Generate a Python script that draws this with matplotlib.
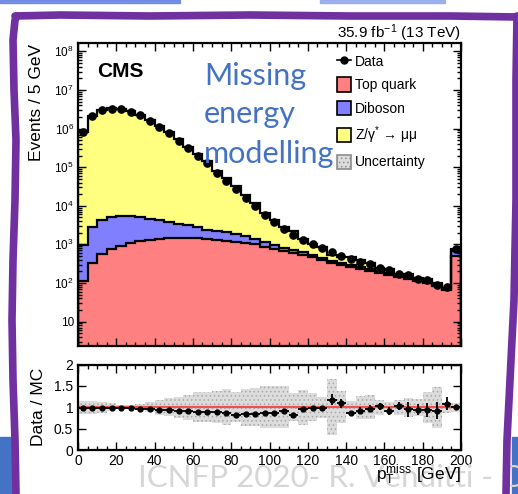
import matplotlib
matplotlib.use("Agg")
import matplotlib.pyplot as plt
import matplotlib.ticker as mticker
from matplotlib.patches import Patch, Rectangle
from matplotlib.lines import Line2D
import numpy as np

plt.rcParams["font.family"] = ["Liberation Sans", "DejaVu Sans"]
plt.rcParams["mathtext.fontset"] = "custom"
plt.rcParams["mathtext.rm"] = "Liberation Sans"
plt.rcParams["mathtext.it"] = "Liberation Sans:italic"
plt.rcParams["hatch.linewidth"] = 0.6

# binning: 5 GeV bins, last bin holds the overflow
edges = np.arange(0, 205, 5)

# observed events per bin
data_counts = [8.3e5, 2.1e6, 3.0e6, 3.3e6, 3.2e6, 2.75e6, 2.2e6, 1.6e6, 1.1e6, 7.6e5,
               4.9e5, 3.1e5, 1.95e5, 1.26e5, 7.2e4, 4.5e4, 2.7e4, 1.6e4, 1.0e4, 5.8e3,
               3.7e3, 2.5e3, 1.8e3, 1.3e3, 1.0e3, 830, 630, 500, 415, 360,
               315, 250, 215, 175, 160, 126, 120, 90, 81, 780]

# simulated processes (stacked)
top_quark = [115, 325, 560, 750, 910, 1070, 1200, 1300, 1380, 1440,
             1480, 1480, 1460, 1390, 1300, 1220, 1150, 1070, 1000, 880,
             770, 680, 610, 540, 470, 400, 330, 295, 265, 235,
             205, 180, 160, 143, 128, 112, 98, 83, 64, 500]
diboson = [865, 2575, 3640, 4250, 4590, 4430, 3800, 3300, 2820, 2360,
           1920, 1620, 1340, 1010, 950, 830, 670, 530, 350, 250,
           170, 130, 100, 80, 65, 55, 40, 35, 30, 26,
           22, 19, 17, 14, 12, 11, 10, 8, 6, 190]
drell_yan = [837000, 2117000, 3046000, 3345000, 3260000, 2800000, 2263000, 1662000, 1160000, 809000,
             529000, 338000, 214000, 139000, 79500, 49400, 31500, 17400, 10500, 5500,
             3360, 1940, 1485, 750, 475, 396, 168, 129, 188, 130,
             98, 46, 59, 13, 28, 11, 20, 7, 5, 90]

# relative MC uncertainty (half width of the band in the ratio)
mc_unc = [0.15, 0.15, 0.13, 0.09, 0.05, 0.05, 0.07, 0.12, 0.18, 0.21,
          0.25, 0.29, 0.35, 0.35, 0.37, 0.42, 0.35, 0.43, 0.45, 0.49,
          0.49, 0.49, 0.33, 0.41, 0.33, 0.25, 0.65, 0.37, 0.14, 0.27,
          0.28, 0.18, 0.12, 0.18, 0.22, 0.20, 0.36, 0.48, 0.13, 0.10]

# error on data/MC
ratio_err = [0.01, 0.01, 0.01, 0.01, 0.01, 0.01, 0.01, 0.01, 0.01, 0.01,
             0.01, 0.01, 0.01, 0.01, 0.01, 0.01, 0.02, 0.02, 0.02, 0.02,
             0.03, 0.03, 0.04, 0.05, 0.05, 0.05, 0.13, 0.10, 0.06, 0.09,
             0.09, 0.09, 0.09, 0.09, 0.18, 0.13, 0.17, 0.20, 0.15, 0.03]

legend_labels = ["Data", "Top quark", "Diboson", "Z/γ$^{*}$ → μμ", "Uncertainty"]

c_top = "#ff8080"
c_vv = "#8080ff"
c_dy = "#ffff80"

W, H = 518, 494
fig = plt.figure(figsize=(W / 100, H / 100), dpi=100)


def fx(x):
    return x / W


def fy(y):
    return 1 - y / H


# ---- slide decorations ----
fig.patches.append(Rectangle((0, fy(3)), fx(180), 3 / H, transform=fig.transFigure,
                             color="#5a7be0", alpha=0.8, zorder=0))
fig.patches.append(Rectangle((fx(320), fy(3)), fx(125), 3 / H, transform=fig.transFigure,
                             color="#8aa2ea", alpha=0.8, zorder=0))
fig.patches.append(Rectangle((0, 0), fx(12), 57 / H, transform=fig.transFigure,
                             color="#4472c4", zorder=0))
fig.patches.append(Rectangle((fx(512), 0), fx(6), 57 / H, transform=fig.transFigure,
                             color="#4472c4", zorder=0))
fig.text(fx(138), fy(487), "ICNFP 2020- R. Venditti - CMS", family="Lato",
         fontsize=22.5, color="#d6d6d6", va="baseline", ha="left", zorder=0)

frame_x = [16, 15, 13, 12, 13, 15, 16, 14, 13, 15, 17]
frame_y = [494, 440, 380, 320, 260, 200, 140, 90, 40, 20, 16]
fig.add_artist(Line2D([fx(v) for v in frame_x], [fy(v) for v in frame_y],
                      color="#7030a0", lw=5.5, solid_capstyle="round"))
top_x = [15, 60, 150, 250, 350, 450, 518]
top_y = [16, 15, 16, 15, 16, 16, 17]
fig.add_artist(Line2D([fx(v) for v in top_x], [fy(v) for v in top_y],
                      color="#7030a0", lw=5.5, solid_capstyle="round"))
right_x = [517, 516, 516, 514, 510, 507, 506]
right_y = [16, 80, 200, 300, 380, 440, 494]
fig.add_artist(Line2D([fx(v) for v in right_x], [fy(v) for v in right_y],
                      color="#7030a0", lw=5.5, solid_capstyle="round"))

# ---- main panel ----
ax = fig.add_axes([fx(78), fy(345.5), fx(461) - fx(78), (345.5 - 43.5) / H])
rax = fig.add_axes([fx(78), fy(450), fx(461) - fx(78), (450 - 364.5) / H])

top_arr = np.array(top_quark, float)
vv_arr = np.array(diboson, float)
dy_arr = np.array(drell_yan, float)
data_arr = np.array(data_counts, float)
s1 = top_arr
s2 = s1 + vv_arr
s3 = s2 + dy_arr
centers = 0.5 * (edges[:-1] + edges[1:])

ymin = 2.4
ax.stairs(s1, edges, baseline=ymin, fill=True, color=c_top, zorder=1)
ax.stairs(s2, edges, baseline=s1, fill=True, color=c_vv, zorder=1)
ax.stairs(s3, edges, baseline=s2, fill=True, color=c_dy, zorder=1)
for s in (s1, s2, s3):
    ax.stairs(s, edges, color="black", lw=1.6, zorder=2)

ax.errorbar(centers, data_arr, yerr=np.sqrt(data_arr), fmt="o", color="black",
            ms=5.2, elinewidth=1.2, capsize=0, zorder=4)

ax.set_yscale("log")
ax.set_xlim(0, 200)
ax.set_ylim(ymin, 1.6e8)
ax.yaxis.set_major_locator(mticker.FixedLocator([10 ** k for k in range(1, 9)]))
ax.yaxis.set_major_formatter(mticker.FuncFormatter(
    lambda v, p: "10" if abs(v - 10) < 1e-6 else "$10^{%d}$" % round(np.log10(v))))
ax.yaxis.set_minor_locator(mticker.LogLocator(base=10, subs=np.arange(2, 10), numticks=20))
ax.yaxis.set_minor_formatter(mticker.NullFormatter())
ax.xaxis.set_major_locator(mticker.MultipleLocator(20))
ax.xaxis.set_minor_locator(mticker.MultipleLocator(5))
ax.tick_params(axis="both", which="both", direction="in", top=True, right=True,
               width=1.0, labelbottom=False)
ax.tick_params(axis="both", which="major", length=6)
ax.tick_params(axis="both", which="minor", length=3)
ax.tick_params(axis="y", labelsize=8.5, pad=3)
for sp in ax.spines.values():
    sp.set_linewidth(1.6)

ax.text(0.05, 0.889, "CMS", transform=ax.transAxes, fontsize=15, fontweight="bold",
        va="baseline", ha="left")
ax.set_ylabel("Events / 5 GeV", fontsize=12.5, loc="top", labelpad=7)

handles = [
    Line2D([0], [0], color="black", marker="o", ms=5, lw=1.2),
    Patch(facecolor=c_top, edgecolor="black", lw=1.2),
    Patch(facecolor=c_vv, edgecolor="black", lw=1.2),
    Patch(facecolor=c_dy, edgecolor="black", lw=1.2),
    Patch(facecolor="#dcdcdc", edgecolor="#8c8c8c", hatch="....", lw=1.2),
]
ax.legend(handles, legend_labels, loc="upper left", bbox_to_anchor=(0.676, 0.965),
          frameon=False, fontsize=10, handlelength=1.0, handleheight=1.2,
          handletextpad=0.3, labelspacing=0.62, borderpad=0, borderaxespad=0)

fig.text(fx(461), fy(38), "35.9 fb$^{-1}$ (13 TeV)", fontsize=11, ha="right", va="baseline")

# Missing energy text from the slide
for txt, yb in zip(["Missing", "energy", "modelling"], [85, 123, 163]):
    fig.text(fx(204), fy(yb), txt, family="Lato", fontsize=22, color="#4472c4",
             va="baseline", ha="left", zorder=10)

# ---- ratio panel ----
unc = np.array(mc_unc)
ratio = data_arr / s3
rax.bar(centers, 2 * unc, bottom=1 - unc, width=5, color="#dcdcdc",
        edgecolor="#a8a8a8", hatch="....", lw=0, zorder=1)
rax.axhline(1, color="#f05050", lw=1.6, zorder=2)
rax.errorbar(centers, ratio, xerr=2.5, yerr=ratio_err, fmt="o", color="black",
             ms=3.5, elinewidth=1.3, capsize=0, zorder=3)
rax.set_xlim(0, 200)
rax.set_ylim(0, 2)
rax.yaxis.set_major_locator(mticker.FixedLocator([0, 0.5, 1, 1.5, 2]))
rax.yaxis.set_major_formatter(mticker.FixedFormatter(["0", "0.5", "1", "1.5", "2"]))
rax.xaxis.set_major_locator(mticker.MultipleLocator(20))
rax.xaxis.set_minor_locator(mticker.MultipleLocator(5))
rax.tick_params(axis="both", which="both", direction="in", top=True, right=True, width=1.0)
rax.tick_params(axis="both", which="major", length=6, labelsize=10)
rax.tick_params(axis="x", which="minor", length=3)
rax.tick_params(axis="x", pad=3)
for sp in rax.spines.values():
    sp.set_linewidth(1.6)
rax.set_ylabel("Data / MC", fontsize=12.5, labelpad=6)
fig.text(fx(461), fy(480), r"p$_{\mathrm{T}}^{\mathrm{miss}}$ [GeV]", fontsize=12.5,
         ha="right", va="baseline")

fig.savefig("out.png", dpi=100)
